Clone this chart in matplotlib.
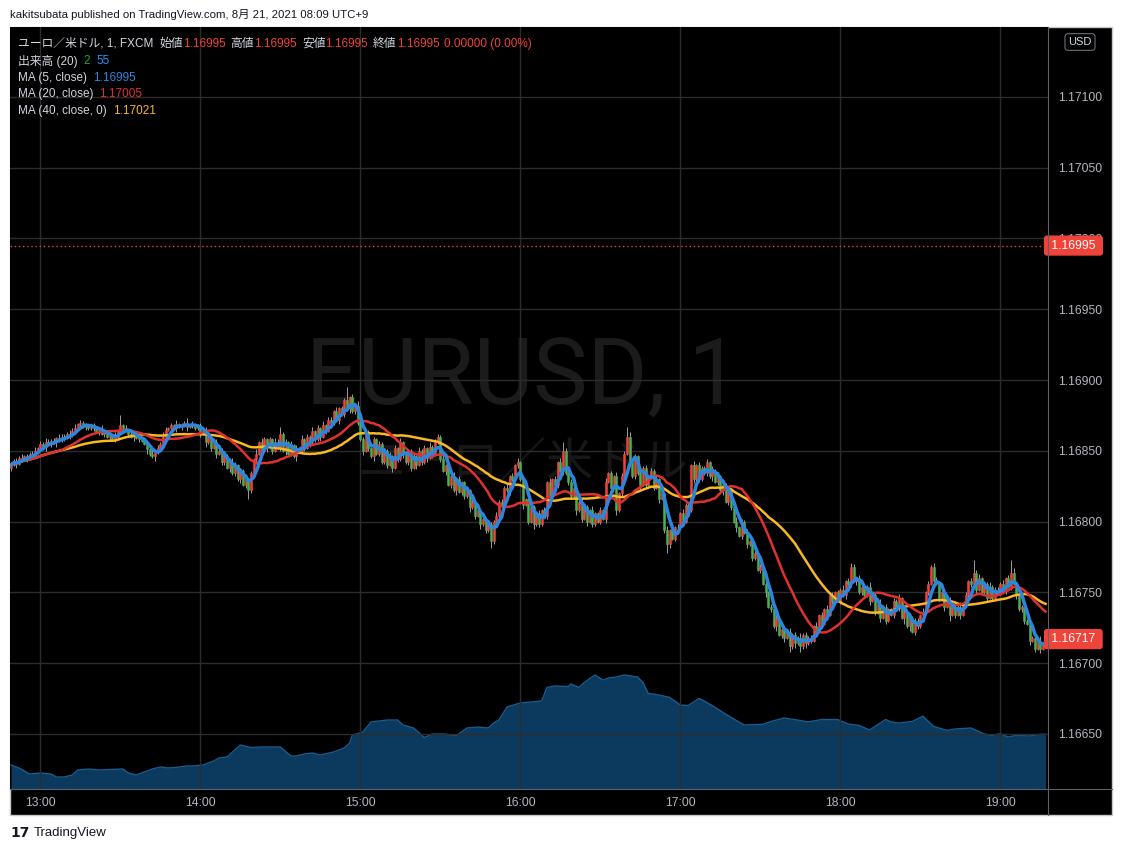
import numpy as np
import pandas as pd
import matplotlib
matplotlib.use("Agg")
import matplotlib.pyplot as plt
from matplotlib.patches import Rectangle
from matplotlib.lines import Line2D
from matplotlib.collections import LineCollection
import matplotlib.transforms as mtrans

FAM = ['Liberation Sans', 'Noto Sans CJK JP', 'DejaVu Sans']
plt.rcParams['font.family'] = FAM

# ---------------- data (1-minute EUR/USD, first candle 12:49) ----------------
# close prices in 1e-5 units above 1.16000
closes_pips = [
    840, 843, 841, 845, 844, 846, 845, 848, 847, 850,
    852, 855, 853, 856, 855, 857, 856, 859, 858, 860,
    859, 862, 861, 864, 866, 869, 870, 867, 868, 866,
    868, 866, 864, 865, 862, 863, 860, 861, 858, 860,
    863, 868, 866, 864, 862, 860, 862, 859, 858, 857,
    855, 851, 848, 846, 849, 852, 855, 860, 865, 866,
    868, 866, 869, 867, 868, 870, 867, 868, 869, 866,
    868, 862, 864, 856, 860, 852, 856, 848, 850, 842,
    846, 838, 842, 834, 840, 830, 836, 826, 830, 822,
    834, 844, 848, 856, 850, 858, 852, 858, 850, 856,
    852, 862, 850, 856, 848, 854, 846, 852, 850, 858,
    852, 860, 856, 864, 858, 866, 860, 868, 864, 872,
    870, 878, 872, 880, 876, 886, 880, 888, 878, 882,
    870, 858, 850, 862, 852, 846, 858, 848, 855, 842,
    850, 840, 846, 838, 852, 844, 856, 848, 842, 850,
    838, 846, 840, 850, 842, 852, 845, 853, 847, 856,
    860, 844, 836, 840, 826, 832, 822, 830, 821, 828,
    818, 822, 810, 814, 804, 808, 798, 802, 794, 798,
    786, 800, 804, 814, 812, 824, 822, 832, 830, 840,
    842, 830, 812, 816, 800, 810, 798, 806, 798, 808,
    804, 828, 818, 830, 826, 842, 836, 850, 834, 828,
    818, 824, 808, 814, 802, 810, 800, 808, 798, 806,
    800, 808, 802, 828, 834, 824, 832, 808, 820, 832,
    848, 860, 842, 832, 846, 834, 826, 838, 826, 832,
    836, 824, 830, 816, 820, 794, 784, 794, 788, 796,
    796, 806, 800, 812, 808, 840, 830, 840, 830, 838,
    834, 842, 832, 836, 828, 832, 822, 826, 814, 822,
    810, 800, 796, 790, 800, 792, 784, 786, 774, 778,
    766, 768, 756, 750, 740, 738, 726, 732, 720, 724,
    718, 722, 712, 720, 714, 718, 712, 720, 714, 718,
    716, 726, 722, 734, 728, 738, 734, 748, 744, 750,
    744, 752, 748, 758, 756, 768, 758, 760, 750, 754,
    748, 754, 744, 748, 736, 742, 732, 740, 730, 738,
    734, 744, 740, 746, 732, 736, 726, 732, 722, 730,
    726, 734, 736, 750, 756, 768, 758, 756, 746, 750,
    740, 744, 734, 740, 734, 740, 734, 742, 748, 758,
    756, 764, 752, 760, 750, 756, 746, 754, 746, 752,
    750, 756, 752, 760, 754, 764, 756, 748, 738, 740,
    730, 728, 716, 718, 710, 716, 710, 714, 717,
]
first_open_pips = 838
# wick lengths beyond the body (pips), one digit per candle
upper_wick_pips = (
    "2121312123 1213212132 2132312121 1212321213 2712131212 1213121321 "
    "2131213121 1213121212 1213212131 2131321213 2512131213 1213121312 "
    "2131219121 3121312121 2131213121 1213121312 2131213121 1213121312 "
    "2131213121 3121312121 2131213621 2121312131 1213121312 2731213121 "
    "2131213121 2131213121 1213121312 2131213121 1213121312 2131213121 "
    "2131213121 2131232121 2131213121 1213121312 2131213321 2131213121 "
    "2923121312 2131293121 213121312")
lower_wick_pips = (
    "2131213121 1213121312 2131213121 1213121312 2131213121 1321312131 "
    "2131213121 1213121312 2131213126 2131213121 1213121312 2131213121 "
    "1213121312 2131213121 1213121312 2131213121 1213121312 2131213121 "
    "5213121312 2131213121 1213121312 2131213121 1213121312 2131213121 "
    "1213126312 2131213121 1213121312 2131213121 1213121312 3142314231 "
    "2131213121 1213121312 2131213121 1213141312 2131213121 3141213121 "
    "2131213121 1213121312 213121312")

# volume 20-period average, read at these candle indices
vol_ma_idx = [0, 3, 7, 11, 15, 17, 20, 23, 25, 29, 33, 37, 42, 44, 47, 50, 53, 56,
              59, 63, 66, 68, 72, 76, 78, 81, 86, 90, 95, 101, 105, 107, 110, 113,
              116, 121, 125, 127, 128, 132, 135, 138, 141, 145, 147, 151, 155, 158,
              162, 167, 171, 175, 179, 181, 183, 186, 191, 199, 201, 204, 209, 210,
              213, 215, 219, 222, 224, 227, 230, 235, 237, 239, 243, 247, 251, 254,
              258, 260, 264, 268, 272, 275, 282, 285, 290, 296, 299, 304, 310, 314,
              318, 322, 328, 330, 333, 338, 342, 346, 351, 354, 360, 365, 368, 371,
              374, 377, 382, 386, 388]
vol_ma = [24, 21, 15, 16, 15, 12, 12, 14, 19, 20, 19, 19.5, 20, 16, 14, 17, 20, 22,
          21, 22, 23, 23, 24, 28, 31, 32, 44, 41.5, 42, 42, 33, 33, 35, 36,
          34, 37, 41, 46, 54, 57, 67, 68, 69, 69, 64, 61, 51.5, 55,
          55, 53.5, 61, 62, 61, 66, 69, 82, 86, 88, 101.5, 103, 102.5, 105,
          101.5, 106.5, 114, 109, 111, 112, 114, 112, 106.5, 95.6, 94, 91.6, 84, 83.4,
          90.6, 88, 81.7, 75, 68.5, 64, 64.6, 67.5, 71, 68.5, 67, 69.5, 69.5, 65,
          63.6, 59, 69.5, 67, 66, 67.5, 72.8, 62.6, 58.6, 60, 61, 55, 53.7, 55.3,
          52, 53.7, 53, 54.7, 54.7]

price_ticks = [1.16650, 1.16700, 1.16750, 1.16800, 1.16850, 1.16900,
               1.16950, 1.17000, 1.17050, 1.17100]
hour_idx = [11, 71, 131, 191, 251, 311, 371]
hour_labels = ["13:00", "14:00", "15:00", "16:00", "17:00", "18:00", "19:00"]
marker_price = 1.16995

# ---------------- derived series ----------------
n = len(closes_pips)
idx = np.arange(n)
close = 1.16 + np.array(closes_pips) * 1e-5
open_ = np.concatenate([[1.16 + first_open_pips * 1e-5], close[:-1]])
up = np.array([int(c) for c in upper_wick_pips.replace(" ", "")][:n]) * 1e-5
dn = np.array([int(c) for c in lower_wick_pips.replace(" ", "")][:n]) * 1e-5
if len(up) < n:
    up = np.concatenate([up, np.full(n - len(up), 1e-5)])
if len(dn) < n:
    dn = np.concatenate([dn, np.full(n - len(dn), 1e-5)])
high = np.maximum(open_, close) + up
low = np.minimum(open_, close) - dn
s = pd.Series(close)
ma5 = s.rolling(5, min_periods=1).mean()
ma20 = s.rolling(20, min_periods=1).mean()
ma40 = s.rolling(40, min_periods=1).mean()

# ---------------- figure ----------------
W, H = 1122, 852
fig = plt.figure(figsize=(W / 100, H / 100), dpi=100)
fig.patch.set_facecolor("white")


def fx(px):
    return px / W


def fy(py):
    return 1 - py / H


L, R, T, B = 10, 1048, 27, 789
PR, PB = 1112, 815
fig.patches.append(Rectangle((fx(L), fy(PB)), (PR - L) / W, (PB - T) / H,
                             transform=fig.transFigure, fc="black", ec="#c8c8c8",
                             lw=1, zorder=-10))

rect = [fx(L), fy(B), (R - L) / W, (B - T) / H]
XL = (-0.375, 388.9)

# volume pane (behind)
axv = fig.add_axes(rect)
axv.set_facecolor("black")
axv.set_xlim(*XL)
axv.set_ylim(0, B - T)
axv.set_xticks([]); axv.set_yticks([])
for sp in axv.spines.values():
    sp.set_visible(False)
axv.fill_between(vol_ma_idx, vol_ma, 0, color="#0c3a5e", lw=0, zorder=1)
axv.plot(vol_ma_idx, vol_ma, color="#1b5c8c", lw=1.0, zorder=2)
axv.text(0.494, 0.537, "EURUSD, 1", transform=axv.transAxes, ha="center",
         va="center", fontsize=66, color="#1b1b1b", family=["Roboto", "DejaVu Sans"], zorder=0)
axv.text(0.494, 0.425, "ユーロ／米ドル", transform=axv.transAxes, ha="center",
         va="center", fontsize=34, color="#171717", family=["Noto Sans CJK JP"], zorder=0)

# price pane
ax = fig.add_axes(rect)
ax.patch.set_alpha(0)
ax.set_xlim(*XL)
ax.set_ylim(1.166111, 1.171494)
for sp in ax.spines.values():
    sp.set_visible(False)
ax.set_yticks(price_ticks)
ax.set_yticklabels([f"{p:.5f}" for p in price_ticks])
ax.yaxis.tick_right()
ax.set_xticks(hour_idx)
ax.set_xticklabels(hour_labels)
ax.tick_params(axis="y", length=0, pad=7, labelsize=8.8, labelcolor="#b2b5be")
ax.tick_params(axis="x", length=0, pad=6, labelsize=8.8, labelcolor="#b2b5be")
ax.grid(True, color="#2c2c2c", lw=1.0, zorder=0)
ax.set_axisbelow(True)

RED = "#f0433a"
GREEN = "#4caf50"
upc = close >= open_
colors = np.where(upc, RED, GREEN)
segs = [[(i, lo), (i, hi)] for i, lo, hi in zip(idx, low, high)]
ax.add_collection(LineCollection(segs, colors="#9a9da5", linewidths=0.7, zorder=2))
body_lo = np.minimum(open_, close)
body_h = np.maximum(np.abs(close - open_), 0.5e-5)
ax.bar(idx, body_h, bottom=body_lo, width=0.8, color=colors, edgecolor=colors,
       linewidth=0.4, zorder=3)

ax.plot(idx, ma40, color="#f9b824", lw=1.8, zorder=4)
ax.plot(idx, ma20, color="#e0312f", lw=1.8, zorder=5)
ax.plot(idx, ma5, color="#2c86e0", lw=2.5, zorder=6)

ax.axhline(marker_price, color=RED, lw=1.0, ls=(0, (1, 2)), zorder=4)

trans = mtrans.blended_transform_factory(ax.transAxes, ax.transData)
for val in (marker_price, close[-1]):
    ax.text(1.0, val, f" {val:.5f} ", transform=trans, ha="left", va="center",
            fontsize=8.8, color="white", clip_on=False, zorder=10,
            bbox=dict(boxstyle="round,pad=0.28,rounding_size=0.2", fc=RED, ec=RED))

# separators
fig.lines.append(Line2D([fx(R), fx(R)], [fy(T), fy(PB)], transform=fig.transFigure,
                        color="#5d606b", lw=0.8))
fig.lines.append(Line2D([fx(L), fx(PR)], [fy(B), fy(B)], transform=fig.transFigure,
                        color="#5d606b", lw=0.8))

# USD box
fig.text(fx(1080), fy(42), "USD", ha="center", va="center", fontsize=8, color="#d1d4dc",
         bbox=dict(boxstyle="round,pad=0.3,rounding_size=0.3", fc="black", ec="#6a6d78", lw=0.8))

# header and footer
fig.text(fx(10), fy(14), "kakitsubata published on TradingView.com, 8月 21, 2021 08:09 UTC+9",
         ha="left", va="center", fontsize=8.2, color="#131722")
fig.text(fx(10), fy(833), "17", ha="left", va="center", fontsize=10, fontweight="bold",
         color="#131722", family=["DejaVu Sans"])
fig.text(fx(34), fy(833), "TradingView", ha="left", va="center", fontsize=9.5, color="#131722")

# legend
renderer = fig.canvas.get_renderer()
LAB = "#d1d4dc"


def chain(x, y, parts, fs=8.5):
    for txt, col, gap in parts:
        t = fig.text(fx(x), fy(y), txt, ha="left", va="center", fontsize=fs, color=col)
        x += t.get_window_extent(renderer).width + gap


chain(18, 44, [("ユーロ／米ドル, 1, FXCM", LAB, 6),
               ("始値", LAB, 0), ("1.16995", RED, 5),
               ("高値", LAB, 0), ("1.16995", RED, 5),
               ("安値", LAB, 0), ("1.16995", RED, 5),
               ("終値", LAB, 0), ("1.16995", RED, 5),
               ("0.00000 (0.00%)", RED, 0)])
chain(18, 61, [("出来高 (20)", LAB, 6), ("2", "#22a33a", 6), ("55", "#2196f3", 0)])
chain(18, 78, [("MA (5, close)", LAB, 6), ("1.16995", "#2c86e0", 0)])
chain(18, 94, [("MA (20, close)", LAB, 6), ("1.17005", "#e0312f", 0)])
chain(18, 111, [("MA (40, close, 0)", LAB, 6), ("1.17021", "#f9b824", 0)])

fig.savefig("out.png", dpi=100, facecolor="white")
